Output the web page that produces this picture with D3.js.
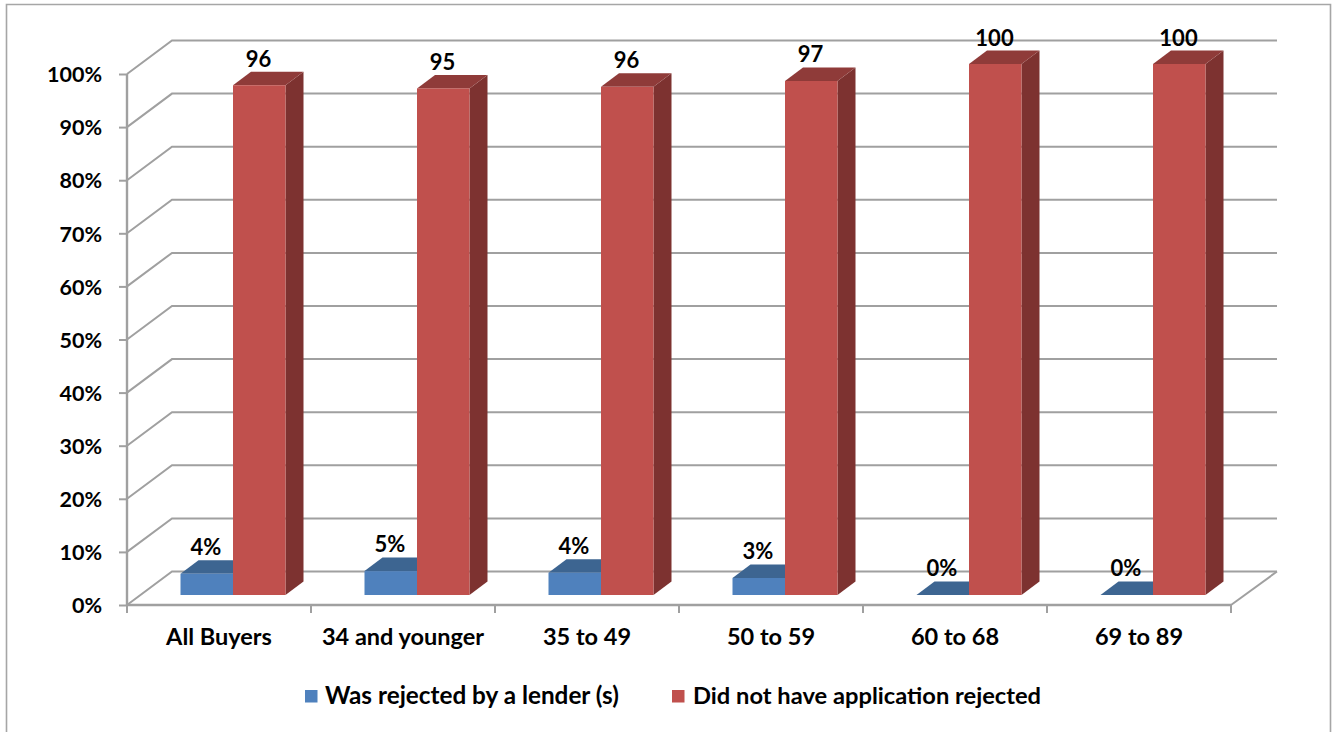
<!DOCTYPE html>
<html><head><meta charset="utf-8">
<script src="https://cdn.jsdelivr.net/npm/d3@7"></script>
<style>html,body{margin:0;padding:0;background:#fff}svg{display:block}text{font-family:Lato,"Open Sans",sans-serif;font-weight:700;fill:#000}</style>
</head><body><svg id="c" width="1332" height="732"></svg>
<script>
const categories=["All Buyers","34 and younger","35 to 49","50 to 59","60 to 68","69 to 89"];
const rejected=[4,4.5,4.2,3.2,0,0];
const rejectedLabels=["4%","5%","4%","3%","0%","0%"];
const notRejected=[96,95.4,95.7,96.8,100,100];
const notRejectedLabels=["96","95","96","97","100","100"];
const legendLabels=["Was rejected by a lender (s)","Did not have application rejected"];
const yTicks=[0,10,20,30,40,50,60,70,80,90,100];

const svg=d3.select("#c");
const gray="#a0a0a0";
const W={x0:127,x1:1231,front0:605,front100:74,dx:45,dy:-33.5};
const x=d3.scaleBand().domain(categories).range([W.x0,W.x1]);
const y=d3.scaleLinear().domain([0,100]).range([W.front0,W.front100]);
const yBar=d3.scaleLinear().domain([0,100]).range([595,64]);
const barDepth={dx:18,dy:-13.5};
const barW=52.5;
const line=d3.line();

// frame
svg.append("path").attr("d","M6.5,732V4.5H1330.5V732").attr("fill","none").attr("stroke","#a6a6a6").attr("stroke-width",1.6);

// walls
const walls=svg.append("g").attr("fill","none").attr("stroke",gray).attr("stroke-width",2);
yTicks.forEach(t=>{
  const p=[[W.x0,y(t)],[W.x0+W.dx,y(t)+W.dy],[W.x1+W.dx+1,y(t)+W.dy]];
  walls.append("path").attr("d",line(p));
});
walls.append("path").attr("d",line([[W.x1,W.front0],[W.x1+W.dx+1,W.front0+W.dy]]));

// axes
const yAxis=d3.axisLeft(y).tickValues(yTicks).tickFormat(d=>d+"%").tickSize(8).tickPadding(17);
const gy=svg.append("g").attr("transform",`translate(${W.x0},0)`).call(yAxis);
const xAxis=d3.axisBottom(x).tickSize(0).tickPadding(23);
const gx=svg.append("g").attr("transform",`translate(0,${W.front0})`).call(xAxis);
[gy,gx].forEach(g=>{
  g.selectAll("path.domain").attr("stroke",gray).attr("stroke-width",2.4);
  g.selectAll("line").attr("stroke",gray).attr("stroke-width",2);});
gy.selectAll("text").attr("font-size",21.5).attr("dy","0.36em").style("font-family",'Lato,"Open Sans",sans-serif');
gx.selectAll("text").attr("font-size",23.5).style("font-family",'Lato,"Open Sans",sans-serif');
gy.select("path.domain").attr("d",`M0,${y(100)}V${y(0)}`);
gx.select("path.domain").attr("d",`M${W.x0},0H${W.x1}`);
gx.append("g").selectAll("line").data(d3.range(categories.length+1)).join("line")
  .attr("x1",i=>W.x0+i*x.step()).attr("x2",i=>W.x0+i*x.step()).attr("y1",0).attr("y2",8)
  .attr("stroke",gray).attr("stroke-width",2);

// bars
function bar(g,x0,v,c){
  const t=yBar(v),b=yBar(0),w=barW,d=barDepth;
  g.append("path").attr("d",line([[x0+w,t],[x0+w+d.dx,t+d.dy],[x0+w+d.dx,b+d.dy],[x0+w,b]])+"Z").attr("fill",c.side);
  g.append("path").attr("d",line([[x0,t],[x0+d.dx,t+d.dy],[x0+w+d.dx,t+d.dy],[x0+w,t]])+"Z").attr("fill",c.top);
  g.append("rect").attr("x",x0).attr("y",t).attr("width",w).attr("height",b-t).attr("fill",c.face);
}
const blue={face:"#4f81bd",top:"#3d6591",side:"#2f4f75"};
const red={face:"#c0504d",top:"#8f3b39",side:"#7d3230"};
const barsG=svg.append("g");
categories.forEach((c,i)=>{
  const bx=x(c)+53.5;
  bar(barsG,bx,rejected[i],blue);
  bar(barsG,bx+barW,notRejected[i],red);
});
// data labels
const lab=svg.append("g").attr("text-anchor","middle").attr("font-size",22);
categories.forEach((c,i)=>{
  const bx=x(c)+53.5;
  lab.append("text").attr("x",bx+25.5).attr("y",yBar(rejected[i])-19).text(rejectedLabels[i]);
  lab.append("text").attr("x",bx+barW+25.5).attr("y",yBar(notRejected[i])-18.5).text(notRejectedLabels[i]);
});
// legend
const legendX=[305,672],legendC=[blue.face,red.face],legendT=[325,693],legendSize=[24.3,23.7];
legendLabels.forEach((t,i)=>{
  svg.append("rect").attr("x",legendX[i]).attr("y",690).attr("width",12.5).attr("height",12.5).attr("fill",legendC[i]);
  svg.append("text").attr("x",legendT[i]).attr("y",704).attr("font-size",legendSize[i]).text(t);
});
</script></body></html>
